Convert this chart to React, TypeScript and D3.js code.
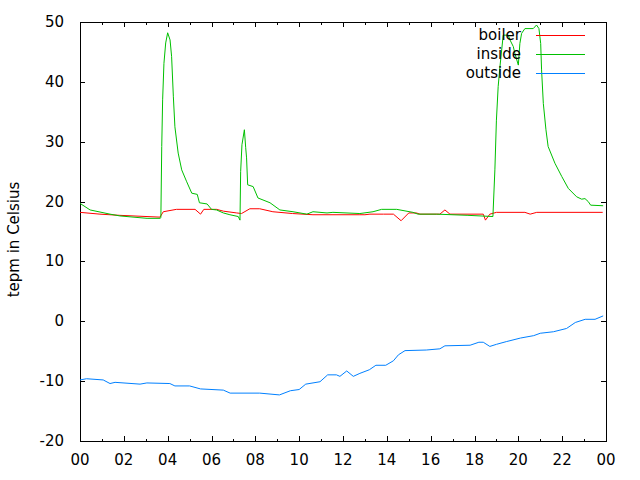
import React from "react";
import * as d3 from "d3";

const xTickLabels = ["00", "02", "04", "06", "08", "10", "12", "14", "16", "18", "20", "22", "00"];
const yTicks = [-20, -10, 0, 10, 20, 30, 40, 50];

const boilerHours = [0, 0.91, 1.82, 3.65, 3.8, 4.4, 5.25, 5.5, 5.65, 6.23, 6.54, 7.15, 7.37, 7.75, 8.2, 8.8, 9.7, 10.63, 12.77, 13.0, 13.23, 13.85, 14.3, 14.65, 15.0, 15.35, 15.51, 16.42, 16.65, 16.88, 18.4, 18.5, 18.7, 19.0, 20.3, 20.54, 20.84, 23.85];
const boilerTemp = [18.2, 17.9, 17.7, 17.4, 18.3, 18.7, 18.7, 17.9, 18.7, 18.7, 18.4, 18.1, 18.0, 18.8, 18.8, 18.3, 18.0, 17.8, 17.8, 17.8, 17.9, 17.9, 17.9, 16.8, 18.1, 18.1, 17.9, 17.9, 18.6, 17.9, 17.9, 16.9, 17.9, 18.2, 18.2, 17.9, 18.2, 18.2];

const insideHours = [0, 0.46, 1.37, 1.82, 3.06, 3.65, 3.69, 3.73, 3.77, 3.83, 3.91, 4.0, 4.11, 4.18, 4.26, 4.33, 4.48, 4.64, 4.87, 5.1, 5.35, 5.45, 5.8, 6.0, 6.23, 6.54, 6.84, 7.22, 7.3, 7.33, 7.39, 7.5, 7.56, 7.6, 7.65, 7.9, 8.12, 8.67, 9.12, 9.72, 10.35, 10.63, 11.27, 11.54, 12.77, 13.37, 13.76, 14.45, 15.19, 15.42, 16.27, 17.7, 18.84, 18.93, 19.0, 19.08, 19.16, 19.31, 19.54, 19.62, 19.77, 19.84, 20.0, 20.07, 20.15, 20.3, 20.68, 20.83, 20.94, 21.02, 21.06, 21.14, 21.26, 21.36, 21.67, 21.98, 22.28, 22.66, 22.89, 23.04, 23.19, 23.3, 23.87];
const insideTemp = [19.7, 18.6, 17.9, 17.6, 17.2, 17.2, 17.3, 29.2, 37.0, 43.1, 46.5, 48.2, 47.0, 44.2, 37.5, 32.5, 28.1, 25.3, 23.3, 21.4, 21.2, 19.8, 19.6, 18.7, 18.6, 18.1, 17.8, 17.5, 16.9, 25.0, 29.5, 32.0, 29.0, 27.3, 22.8, 22.5, 20.6, 19.8, 18.6, 18.3, 17.9, 18.3, 18.1, 18.2, 18.0, 18.3, 18.7, 18.7, 18.2, 17.9, 17.9, 17.7, 17.5, 25.3, 33.6, 39.2, 42.5, 47.8, 47.8, 47.0, 45.9, 44.8, 42.8, 46.4, 48.1, 48.9, 48.9, 49.5, 48.9, 46.4, 42.0, 36.4, 32.0, 29.2, 26.4, 24.2, 22.2, 20.8, 20.4, 20.5, 20.0, 19.4, 19.3];

const outsideHours = [0, 0.3, 1.06, 1.37, 1.6, 2.74, 3.05, 4.1, 4.33, 5.0, 5.5, 6.54, 6.85, 8.2, 9.1, 9.6, 10.0, 10.3, 10.95, 11.3, 11.7, 11.86, 12.17, 12.47, 12.77, 13.2, 13.5, 13.95, 14.3, 14.53, 14.83, 15.8, 16.42, 16.65, 17.8, 18.2, 18.4, 18.7, 19.0, 19.45, 20.1, 20.7, 21.0, 21.6, 22.2, 22.6, 23.05, 23.5, 23.87];
const outsideTemp = [-9.8, -9.6, -9.8, -10.4, -10.2, -10.5, -10.3, -10.4, -10.8, -10.8, -11.3, -11.5, -12.0, -12.0, -12.3, -11.6, -11.4, -10.5, -10.1, -8.95, -8.95, -9.2, -8.3, -9.2, -8.7, -8.1, -7.35, -7.35, -6.6, -5.6, -4.9, -4.8, -4.6, -4.1, -4.0, -3.5, -3.5, -4.2, -3.85, -3.4, -2.8, -2.4, -2.0, -1.75, -1.2, -0.2, 0.33, 0.33, 0.9];

const seriesNames = ["boiler", "inside", "outside"];
const seriesColors = ["#ff0000", "#00c000", "#0080ff"];

const W = 640;
const H = 480;
const left = 80;
const right = 606;
const top = 22;
const bottom = 441;
const font = "'DejaVu Sans', sans-serif";

export default function App() {
  const x = d3.scaleLinear().domain([0, 24]).range([left, right]);
  const y = d3.scaleLinear().domain([-20, 50]).range([bottom, top]);

  const series = [
    { h: boilerHours, v: boilerTemp },
    { h: insideHours, v: insideTemp },
    { h: outsideHours, v: outsideTemp },
  ];

  const line = d3
    .line<[number, number]>()
    .x((d) => x(d[0]))
    .y((d) => y(d[1]));

  const majorX = d3.range(0, 25, 2);
  const minorX = d3.range(1, 24, 2);

  return (
    <svg
      width={W}
      height={H}
      style={{ position: "absolute", left: 0, top: 0, background: "#fff" }}
    >
      <rect x={0} y={0} width={W} height={H} fill="#fff" />
      <g shapeRendering="crispEdges" stroke="#000" strokeWidth={1}>
        {yTicks.map((t) => (
          <g key={"y" + t}>
            <line x1={left} x2={left + 5} y1={Math.round(y(t)) + 0.5} y2={Math.round(y(t)) + 0.5} />
            <line x1={right} x2={right - 5} y1={Math.round(y(t)) + 0.5} y2={Math.round(y(t)) + 0.5} />
          </g>
        ))}
        {majorX.map((t) => (
          <g key={"x" + t}>
            <line x1={Math.round(x(t)) + 0.5} x2={Math.round(x(t)) + 0.5} y1={bottom} y2={bottom - 5} />
            <line x1={Math.round(x(t)) + 0.5} x2={Math.round(x(t)) + 0.5} y1={top} y2={top + 5} />
          </g>
        ))}
        {minorX.map((t) => (
          <g key={"m" + t}>
            <line x1={Math.round(x(t)) + 0.5} x2={Math.round(x(t)) + 0.5} y1={bottom} y2={bottom - 2.5} />
            <line x1={Math.round(x(t)) + 0.5} x2={Math.round(x(t)) + 0.5} y1={top} y2={top + 2.5} />
          </g>
        ))}
        <rect x={left + 0.5} y={top + 0.5} width={right - left} height={bottom - top} fill="none" />
      </g>

      <g fontFamily={font} fontSize={15} fill="#000">
        {yTicks.map((t) => (
          <text key={"yl" + t} x={64} y={y(t)} textAnchor="end" dominantBaseline="central">
            {t}
          </text>
        ))}
        {majorX.map((t, i) => (
          <text key={"xl" + t} x={x(t)} y={465} textAnchor="middle">
            {xTickLabels[i]}
          </text>
        ))}
        <text
          transform={`translate(19, ${(top + bottom) / 2 + 8}) rotate(-90)`}
          textAnchor="middle"
        >
          tepm in Celsius
        </text>
      </g>

      <g fill="none" strokeWidth={1}>
        {series.map((s, i) => (
          <path
            key={seriesNames[i]}
            d={line(s.h.map((h, j) => [h, s.v[j]] as [number, number])) || ""}
            stroke={seriesColors[i]}
          />
        ))}
      </g>

      <g fontFamily={font} fontSize={15}>
        {seriesNames.map((n, i) => (
          <g key={"lg" + n}>
            <text x={521} y={35 + i * 19} textAnchor="end" dominantBaseline="central" fill="#000">
              {n}
            </text>
            <line
              x1={536}
              x2={585}
              y1={35.5 + i * 19}
              y2={35.5 + i * 19}
              stroke={seriesColors[i]}
              shapeRendering="crispEdges"
            />
          </g>
        ))}
      </g>
    </svg>
  );
}
